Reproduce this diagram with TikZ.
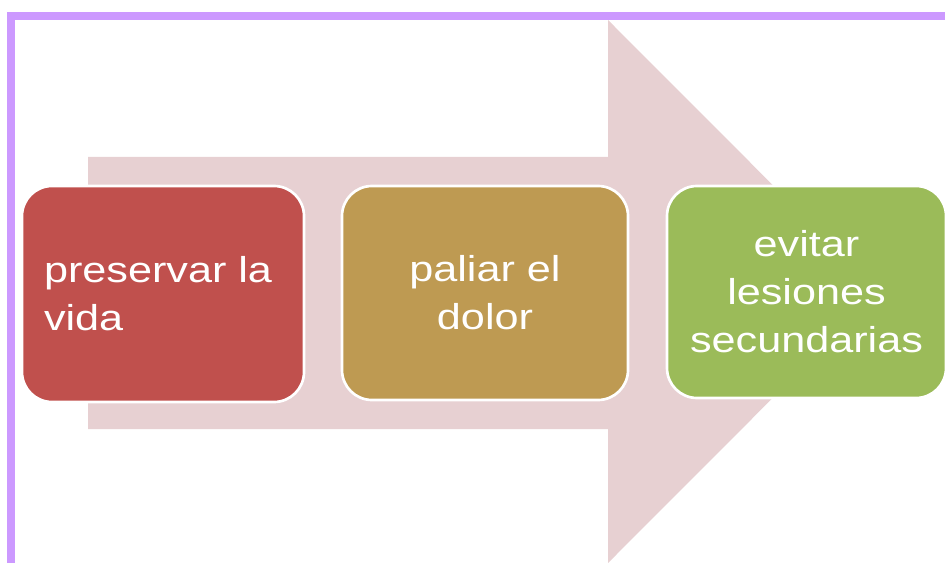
\documentclass[tikz,border=0pt]{standalone}
\usepackage{fontspec}
\setmainfont{Liberation Sans}[FakeStretch=1.2]
\definecolor{rojo}{HTML}{C0504D}
\definecolor{oro}{HTML}{BE9A52}
\definecolor{verde}{HTML}{9BBB59}
\definecolor{rosa}{HTML}{E7D0D2}
\definecolor{lila}{HTML}{CC99FF}
\tikzset{
  marco/.style={draw=lila, line width=6pt, line join=miter},
  flecha/.style={fill=rosa},
  caja/.style={rectangle, rounded corners=22.5pt, draw=white, line width=2pt,
    text=white, font=\fontsize{27pt}{36pt}\selectfont, inner xsep=16.5pt},
}
\begin{document}
\begin{tikzpicture}[x=0.75pt,y=-0.75pt]
    \useasboundingbox (0,0) rectangle (945,563);
    % big arrow behind the steps
    \fill[flecha] (88,157) -- (608,157) -- (608,20) -- (879,291.5)
        -- (608,563) -- (608,429) -- (88,429) -- cycle;
    \draw[marco] (11,563) -- (11,16) -- (945,16);
    % the three steps
    \draw (163,294) node[caja, fill=rojo, minimum width=211.5pt, minimum height=162pt,
            text width=178.5pt, align=left] (vida) {preservar la\\vida};
    \draw (485,293) node[caja, fill=oro, minimum width=214.5pt, minimum height=160.5pt,
            text width=181.5pt, align=center] (dolor) {paliar el\\dolor};
    \draw (806.5,292) node[caja, fill=verde, minimum width=209.25pt, minimum height=159pt,
            text width=176.25pt, align=center] (lesiones) {evitar\\lesiones\\secundarias};
\end{tikzpicture}
\end{document}
